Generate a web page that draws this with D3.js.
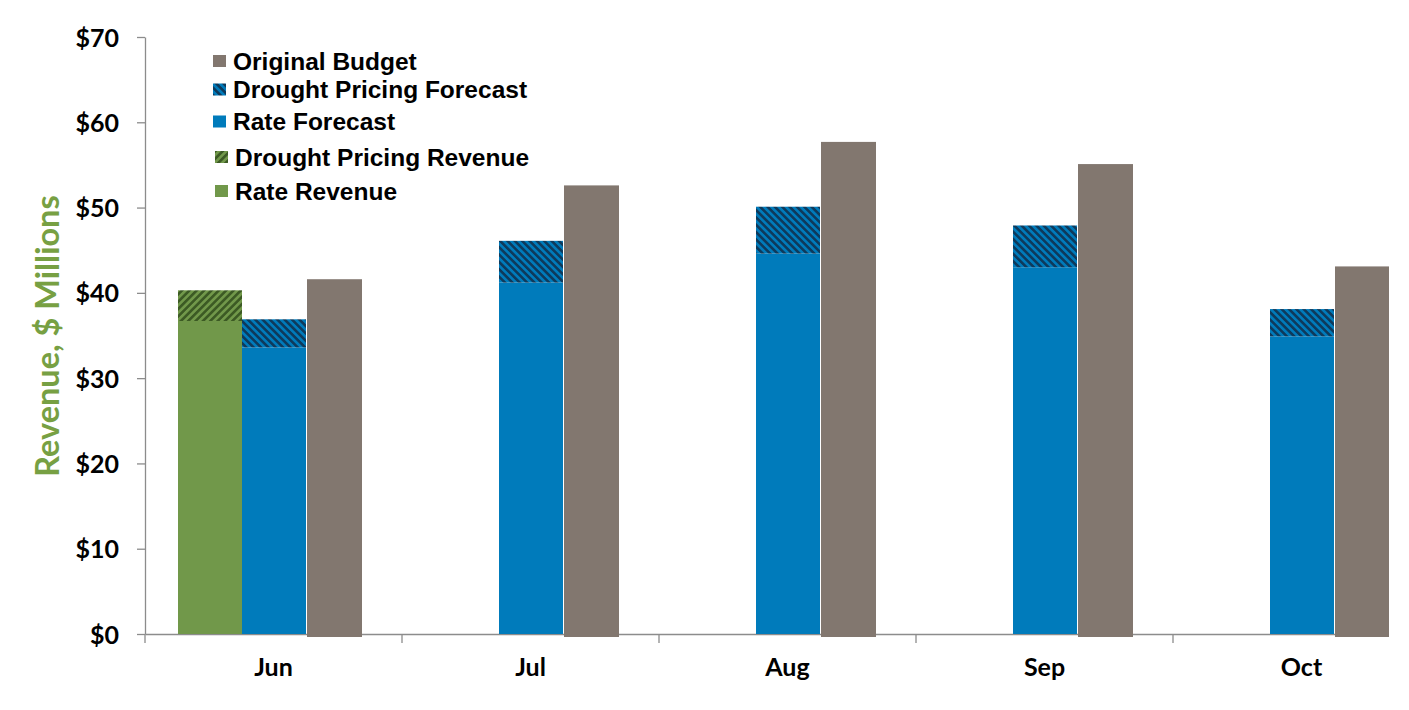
<!DOCTYPE html>
<html>
<head>
<meta charset="utf-8">
<script src="https://cdn.jsdelivr.net/npm/d3@7/dist/d3.min.js"></script>
<style>
  body { margin: 0; background: #fff; }
  .tick-label { font-family: Lato, "Open Sans", sans-serif; font-weight: 700; font-size: 25px; fill: #000; }
  .legend-label { font-family: "Liberation Sans", Arial, sans-serif; font-weight: 700; font-size: 24.5px; fill: #000; }
</style>
</head>
<body>
<svg width="1409" height="710"></svg>
<script>
// values, $ millions
var months          = ["Jun", "Jul", "Aug", "Sep", "Oct"];
var rateRevenue     = [36.7, 0, 0, 0, 0];
var droughtRevenue  = [3.6, 0, 0, 0, 0];
var rateForecast    = [33.6, 41.2, 44.6, 43.0, 34.9];
var droughtForecast = [3.3, 4.9, 5.5, 4.9, 3.2];
var originalBudget  = [41.6, 52.6, 57.7, 55.1, 43.1];
var yTicks          = [0, 10, 20, 30, 40, 50, 60, 70];
var legendLabels    = ["Original Budget", "Drought Pricing Forecast", "Rate Forecast",
                       "Drought Pricing Revenue", "Rate Revenue"];

var colors = {
    budget: "#82776f",
    blue: "#007bbb", navy: "#0e3a5c",
    green: "#71984a", darkGreen: "#3c5a24"
};

var svg = d3.select("svg");
var plotLeft = 145, plotTop = 37, plotBottom = 634, clipRight = 1389;

var y = d3.scaleLinear().domain([0, 70]).range([plotBottom, plotTop]);
var x = d3.scaleBand().domain(months).range([plotLeft, plotLeft + 5 * 257]);
// three slots per month: revenue, forecast, budget
var slot = d3.scaleBand().domain(["revenue", "forecast", "budget"]).range([33, 33 + 3 * 64]);

// hatch patterns
var defs = svg.append("defs");
function hatch(id, bg, fg, angle) {
    var p = defs.append("pattern").attr("id", id)
        .attr("patternUnits", "userSpaceOnUse")
        .attr("width", 5.2).attr("height", 5.2)
        .attr("patternTransform", "rotate(" + angle + ")");
    p.append("rect").attr("width", 5.2).attr("height", 5.2).attr("fill", bg);
    p.append("rect").attr("width", 2.6).attr("height", 5.2).attr("fill", fg);
}
hatch("hatchBlue", colors.blue, colors.navy, -45);
hatch("hatchGreen", colors.green, colors.darkGreen, 45);

defs.append("clipPath").attr("id", "plotClip")
    .append("rect").attr("x", 0).attr("y", 0).attr("width", clipRight).attr("height", 710);

var plot = svg.append("g").attr("clip-path", "url(#plotClip)");

// x axis line + category ticks
var xAxis = plot.append("g").attr("transform", "translate(0," + plotBottom + ")")
    .call(d3.axisBottom(x).tickSize(0).tickFormat(""));
xAxis.select(".domain").attr("stroke", "#8c8c8c").attr("stroke-width", 1.3);
xAxis.selectAll(".boundary").data(months).enter().append("line")
    .attr("x1", d => x(d)).attr("x2", d => x(d))
    .attr("y1", 0).attr("y2", 9)
    .attr("stroke", "#8c8c8c").attr("stroke-width", 1.3);

// y axis
var yAxis = svg.append("g").attr("transform", "translate(" + plotLeft + ",0)")
    .call(d3.axisLeft(y).tickValues(yTicks).tickSize(8).tickSizeOuter(0).tickFormat(d => "$" + d));
yAxis.select(".domain").attr("stroke", "#8c8c8c").attr("stroke-width", 1.3);
yAxis.selectAll(".tick line").attr("stroke", "#8c8c8c").attr("stroke-width", 1.3);
yAxis.selectAll(".tick text").attr("class", "tick-label").attr("x", -26).attr("dy", "0.36em");

// stacked bars
function stack(cls, base, vals, fillBase, fillTop, slotName) {
    var g = plot.append("g").attr("class", cls);
    var rows = months.map((m, i) => ({ m: m, a: base[i], b: vals[i] }));
    g.selectAll("rect.base").data(rows.filter(d => d.a > 0)).enter().append("rect")
        .attr("x", d => x(d.m) + slot(slotName)).attr("width", slot.bandwidth())
        .attr("y", d => y(d.a)).attr("height", d => y(0) - y(d.a))
        .attr("fill", fillBase);
    g.selectAll("rect.top").data(rows.filter(d => d.b > 0)).enter().append("rect")
        .attr("x", d => x(d.m) + slot(slotName)).attr("width", slot.bandwidth())
        .attr("y", d => y(d.a + d.b)).attr("height", d => y(d.a) - y(d.a + d.b))
        .attr("fill", fillTop);
}
stack("revenue", rateRevenue, droughtRevenue, colors.green, "url(#hatchGreen)", "revenue");
stack("forecast", rateForecast, droughtForecast, colors.blue, "url(#hatchBlue)", "forecast");

plot.append("g").attr("class", "budget")
    .selectAll("rect").data(originalBudget).enter().append("rect")
    .attr("x", (d, i) => x(months[i]) + slot("budget") + 1)
    .attr("width", slot.bandwidth() - 9)
    .attr("y", d => y(d)).attr("height", d => y(0) - y(d) + 3)
    .attr("fill", colors.budget);

// month labels
svg.append("g").selectAll("text").data(months).enter().append("text")
    .attr("class", "tick-label")
    .attr("x", d => x(d) + x.bandwidth() / 2)
    .attr("y", 676)
    .attr("text-anchor", "middle")
    .text(d => d);

// y title
svg.append("text")
    .attr("transform", "translate(59,336) rotate(-90)")
    .attr("text-anchor", "middle")
    .style("font-family", "Lato, sans-serif").style("font-weight", 700)
    .style("font-size", "32.5px").style("fill", "#77a043")
    .text("Revenue, $ Millions");

// legend
var legendFill = [colors.budget, "url(#hatchBlue)", colors.blue, "url(#hatchGreen)", colors.green];
var legendY = [61, 89.5, 121.5, 157, 191];
var legendX = [213, 213, 213, 215, 215];
var lg = svg.append("g").attr("class", "legend");
var item = lg.selectAll("g").data(legendLabels).enter().append("g")
    .attr("transform", (d, i) => "translate(" + legendX[i] + "," + legendY[i] + ")");
item.append("rect").attr("x", 0).attr("y", -6).attr("width", 13).attr("height", 12)
    .attr("fill", (d, i) => legendFill[i]);
item.append("text").attr("class", "legend-label").attr("x", 20).attr("dy", "0.36em").text(d => d);
</script>
</body>
</html>
